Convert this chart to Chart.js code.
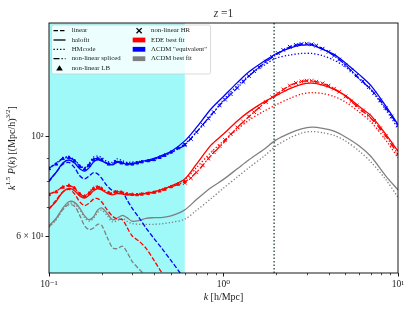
<!DOCTYPE html>
<html><head><meta charset="utf-8">
<script src="https://cdn.jsdelivr.net/npm/chart.js@4"></script>
<style>html,body{margin:0;padding:0;background:#fff}canvas{display:block}</style>
</head><body>
<canvas id="c" width="414" height="311"></canvas>
<script>
// ---------------- DATA ----------------
const titleText = 'z =1';
const xTickVals = [0.1, 1, 10];
const xTickLabels = ['10\u207B\u00B9', '10\u2070', '10\u00B9'];
const yTickVals = [60, 100];
const yTickLabels = ['6 \u00D7 10\u00B9', '10\u00B2'];
const kBand = [0.1, 0.6];
const kCut = 1.95;

const kLin = [0.1,0.11,0.12,0.13,0.14,0.15,0.16,0.17,0.18,0.19,0.2,0.215,0.231,0.245,0.264,0.28,0.3,0.33,0.36,0.4,0.44,0.5,0.55,0.6];
const blueLinear = [79.6,83.5,87,87.8,85.5,82,80.7,82,83.3,82.8,81,78,76,75.5,75.4,72.5,69.4,66,62.8,59.5,56.8,53.2,50.6,48.3];
const redLinear  = [69.2,72.5,75.5,76.5,74.8,71.8,70.4,71.3,72.8,73,71.8,69,66.7,65.8,65.5,63,60.3,58.6,56.6,53.2,50.2,46.8,44.5,42.5];
const grayLinear = [63.2,65.8,69,70.8,70.2,67,63.5,62.3,62.8,64,63.7,60,56.8,56.5,57.2,55.5,52.9,50.8,49,46.5,44.5,42,40,38.5];

const kGrid = [0.1,0.11,0.12,0.13,0.14,0.15,0.16,0.17,0.18,0.19,0.2,0.215,0.231,0.245,0.264,0.28,0.3,0.33,0.36,0.4,0.45,0.5,0.6,0.7,0.85,1.0,1.2,1.4,1.7,2.0,2.4,2.8,3.2,3.7,4.3,5.0,6.0,7.0,8.5,10];
const blueHalofit = [80,83.5,87.5,88.9,87.5,85,84,85.5,88,88.9,88.5,87.3,86.7,87.8,87.5,87,87.3,88,88.6,89.6,91.2,92.8,98,105,115.5,123,132,139.5,147,153,157.5,159.8,159.8,156.5,152.5,146,137.5,130,117.2,106.5];
const blueHMcode  = [85.5,87.5,89.8,90.4,89,86.5,85.5,87.5,90.2,90.7,90,88.3,87.8,89.4,88.5,87.8,88,88.3,88.7,89.4,90.8,92.3,96.5,102.5,111.5,121,130,137,144,149.5,152,153.2,153.2,151.5,148,143,134.5,127,115,104.5];
const blueSpliced = [85.3,87.2,89.5,90,88.6,86.2,85,86.8,89.2,89.6,89,87.5,87.2,88.3,87.8,87.2,87.2,87.8,88.3,89.1,90.6,92.3,96,102.5,112,120,128.5,136.5,145.5,152,158.5,160.8,160.5,157,151.5,144.5,134.5,127.5,116,106];
const redHalofit  = [69.2,72,75.5,76.9,76,74,73.2,74.3,76,76.7,76.3,75,74.4,74.9,74.7,74.4,74.4,74.6,75,75.5,76.6,77.8,80.7,87,96,101.5,108.5,113.8,119.5,123.5,128,130.8,131.6,130.3,127.5,123.5,116.8,111.5,101.4,93];
const redHMcode   = [74.5,75.8,77.5,78,77,74.8,74,75.5,77.3,77.8,77,75.6,75.2,76,75.5,75,74.8,74.9,75.2,75.7,76.7,77.8,80.5,85.5,92.5,98,104,109,114,117.8,121.8,124.5,125.4,124.8,123,119.5,113.5,108,98.5,90];
const redSpliced  = [74.7,75.8,77.5,78,77,74.8,73.8,75,76.8,77.3,76.8,75.3,74.9,75.6,75.2,74.7,74.5,74.6,74.9,75.3,76.3,77.5,79.5,83.5,91,97,105,111,118.5,124,130,132.8,133.2,131.5,128,123,115.5,110,100.5,91.5];
const grayHalofit = [63.5,66,69.5,71.8,71.6,69.5,66.8,65.5,66.5,68.8,69.6,67.8,65.5,66,67,66.2,65,65.3,66,66.2,66.3,66.8,68.9,72.6,77.2,80.5,85,89,93.8,98.5,102,104.2,105.1,104.5,103,100,95.5,90.5,82,76.3];
const grayHMcode  = [63,65.5,69,71.2,71,69,66.2,65,66,68,68.8,67,64.8,65.2,66,65,64.2,64,64,64,64.2,64.6,65.7,68.7,73,77,81.5,85.5,90.5,95.5,99.5,102,102.8,102.2,100.8,98,93,88,80.5,73.5];

const kHR = [0.6,0.65,0.7,0.76,0.82,0.88,0.95,1.02,1.1,1.2,1.3,1.4,1.5,1.6,1.75,1.9,2.05,2.2,2.4,2.6,2.8,3.0,3.2,3.4,3.7,4.0,4.3,4.6,5.0,5.4,5.8,6.3,6.8,7.3,7.9,8.5,9.2,10];
const blueHR = [96,99,102.5,106.5,110,113.5,117.5,121,124.5,128.5,132.5,136.5,140,143,147,150.5,153.5,156,158.5,160,160.8,161,160.5,159.5,157,154.5,151.5,148.5,144.5,140.5,137,133,129,125,120.5,116,111,106];
const redHR  = [79,81,83.5,86.5,89.5,92.5,95.5,98.5,101.5,105,108,111,113.5,116,119.5,122.5,125,127.5,130,131.8,132.8,133.3,133.2,132.6,131.5,130,128,126,123,120,117.5,114.5,111.5,108.5,104.5,100.5,96,91.5];

const kLB = [0.1,0.11,0.12,0.13,0.14,0.15,0.16,0.17,0.18,0.19,0.2,0.22,0.24,0.26,0.28,0.3,0.32,0.34,0.37,0.4,0.43,0.46,0.5,0.55,0.6];
const blueLB = [85,87,89.5,90,88.5,86,84.8,86.5,89,89.5,89,87,88,87.5,87,87,87.5,88,88.5,89,90,91,92.5,94.5,96];
const redLB  = [74.5,75.5,77.3,78,77,74.8,73.8,75,76.8,77.3,76.8,75.2,75.5,75.3,74.7,74.5,74.4,74.6,74.9,75.3,75.8,76.5,77.5,78.5,79.5];

const legendLeft = ['linear','halofit','HMcode','non-linear spliced','non-linear LB'];
const legendRight = ['non-linear HR','EDE best fit','\u039BCDM "equivalent"','\u039BCDM best fit'];

// ---------------- STYLE ----------------
const BLUE = '#0000ff', RED = '#ff0000', GRAY = '#808080';
const SERIF = '"Liberation Serif", "DejaVu Serif", serif';
const LW = 1.3;
const DASH = [4.5, 2], DOT = [1.3, 2], DASHDOT = [6, 2, 1.3, 2];

function pts(ks, vs) { return ks.map((k, i) => ({x: k, y: vs[i]})); }
function line(ks, vs, color, dash) {
  return {data: pts(ks, vs), borderColor: color, backgroundColor: color, borderWidth: LW,
    borderDash: dash, pointRadius: 0, fill: false, tension: 0.3, showLine: true};
}
function marks(ks, vs, color, style, r) {
  return {data: pts(ks, vs), borderColor: color, backgroundColor: color, borderWidth: 1,
    pointStyle: style, pointRadius: r, pointHoverRadius: r, showLine: false};
}

const datasets = [
  marks(kHR, redHR, RED, 'crossRot', 2.6),
  marks(kLB, redLB, RED, 'triangle', 1.8),
  line(kGrid, redSpliced, RED, DASHDOT),
  line(kGrid, redHMcode, RED, DOT),
  line(kGrid, redHalofit, RED, []),
  line(kLin, redLinear, RED, DASH),
  marks(kHR, blueHR, BLUE, 'crossRot', 2.6),
  marks(kLB, blueLB, BLUE, 'triangle', 1.8),
  line(kGrid, blueSpliced, BLUE, DASHDOT),
  line(kGrid, blueHMcode, BLUE, DOT),
  line(kGrid, blueHalofit, BLUE, []),
  line(kLin, blueLinear, BLUE, DASH),
  line(kGrid, grayHMcode, GRAY, DOT),
  line(kGrid, grayHalofit, GRAY, []),
  line(kLin, grayLinear, GRAY, DASH),
];

function richText(ctx, segs, x, y, align) {
  let w = 0;
  segs.forEach(s => { ctx.font = s.f; w += ctx.measureText(s.t).width; });
  let cx = align === 'center' ? x - w / 2 : x;
  ctx.textBaseline = 'middle';
  ctx.textAlign = 'left';
  segs.forEach(s => { ctx.font = s.f; ctx.fillText(s.t, cx, y + (s.dy || 0)); cx += ctx.measureText(s.t).width; });
}

const decor = {
  id: 'decor',
  beforeDatasetsDraw(chart) {
    const {ctx, chartArea: a, scales: {x}} = chart;
    ctx.save();
    const x0 = x.getPixelForValue(kBand[0]), x1 = x.getPixelForValue(kBand[1]);
    ctx.fillStyle = '#9ff9f9';
    ctx.fillRect(x0, a.top, x1 - x0, a.bottom - a.top);
    const xc = x.getPixelForValue(kCut);
    ctx.strokeStyle = '#2f4f4f';
    ctx.lineWidth = 1.4;
    ctx.setLineDash([1.4, 2.1]);
    ctx.beginPath(); ctx.moveTo(xc, a.top); ctx.lineTo(xc, a.bottom); ctx.stroke();
    ctx.restore();
  },
  afterDraw(chart) {
    const {ctx, chartArea: a, scales: {x, y}} = chart;
    ctx.save();
    ctx.strokeStyle = '#000'; ctx.lineWidth = 0.9; ctx.setLineDash([]);
    ctx.strokeRect(a.left, a.top, a.right - a.left, a.bottom - a.top);
    ctx.lineWidth = 0.7;
    ctx.beginPath();
    [0.2,0.3,0.4,0.5,0.6,0.7,0.8,0.9,2,3,4,5,6,7,8,9].forEach(v => {
      const px = Math.round(x.getPixelForValue(v)) + 0.5;
      ctx.moveTo(px, a.bottom); ctx.lineTo(px, a.bottom + 2.2);
    });
    [70, 80, 90].forEach(v => {
      const py = Math.round(y.getPixelForValue(v)) + 0.5;
      ctx.moveTo(a.left, py); ctx.lineTo(a.left - 2.2, py);
    });
    ctx.stroke();
    ctx.fillStyle = '#333';
    richText(ctx, [{t: 'z', f: 'italic 11.5px ' + SERIF}, {t: ' =1', f: '11.5px ' + SERIF}], (a.left + a.right) / 2, 14, 'center');
    ctx.fillStyle = '#222';
    const it = 'italic 10px ' + SERIF, rm = '10px ' + SERIF, sp = '7px ' + SERIF;
    richText(ctx, [{t: 'k', f: it}, {t: ' [h/Mpc]', f: rm}], (a.left + a.right) / 2, 297, 'center');
    ctx.save();
    ctx.translate(12, (a.top + a.bottom) / 2);
    ctx.rotate(-Math.PI / 2);
    richText(ctx, [{t: 'k', f: it}, {t: '1.5', f: sp, dy: -3.6}, {t: ' ', f: rm}, {t: 'P', f: it}, {t: '(', f: rm}, {t: 'k', f: it},
      {t: ') [(Mpc/h)', f: rm}, {t: '3/2', f: sp, dy: -3.6}, {t: ']', f: rm}], 0, 0, 'center');
    ctx.restore();
    const lx = 51.5, ly = 25, lw = 159, lh = 49;
    ctx.beginPath();
    ctx.roundRect ? ctx.roundRect(lx, ly, lw, lh, 2) : ctx.rect(lx, ly, lw, lh);
    ctx.fillStyle = 'rgba(255,255,255,0.8)'; ctx.fill();
    ctx.strokeStyle = 'rgba(204,204,204,0.9)'; ctx.lineWidth = 0.8; ctx.stroke();
    const rows = [30.7, 40, 49.3, 58.7, 68.3];
    const dashes = [DASH, [], DOT, DASHDOT];
    ctx.strokeStyle = '#000'; ctx.lineWidth = LW;
    dashes.forEach((d, i) => {
      ctx.setLineDash(d);
      ctx.beginPath(); ctx.moveTo(53.5, rows[i]); ctx.lineTo(65.5, rows[i]); ctx.stroke();
    });
    ctx.setLineDash([]);
    ctx.fillStyle = '#000';
    ctx.beginPath(); ctx.moveTo(59.5, rows[4] - 3); ctx.lineTo(62.8, rows[4] + 2.3); ctx.lineTo(56.2, rows[4] + 2.3); ctx.closePath(); ctx.fill();
    ctx.lineWidth = 1.3;
    ctx.beginPath(); ctx.moveTo(136.5, rows[0] - 2.6); ctx.lineTo(141.7, rows[0] + 2.6); ctx.moveTo(141.7, rows[0] - 2.6); ctx.lineTo(136.5, rows[0] + 2.6); ctx.stroke();
    [RED, BLUE, GRAY].forEach((c, i) => { ctx.fillStyle = c; ctx.fillRect(132.7, rows[i + 1] - 2.4, 12.6, 4.8); });
    ctx.fillStyle = '#222';
    ctx.font = '6.8px ' + SERIF; ctx.textBaseline = 'middle'; ctx.textAlign = 'left';
    legendLeft.forEach((t, i) => ctx.fillText(t, 71.7, rows[i]));
    legendRight.forEach((t, i) => ctx.fillText(t, 151, rows[i]));
    ctx.restore();
  }
};

new Chart(document.getElementById('c'), {
  type: 'line',
  data: {datasets},
  options: {
    responsive: false, animation: false, devicePixelRatio: 1,
    layout: {padding: {top: 23, right: 16, left: 0, bottom: 0}},
    plugins: {legend: {display: false}, tooltip: {enabled: false}, title: {display: false}},
    scales: {
      x: {
        type: 'logarithmic', min: 0.1, max: 10,
        afterBuildTicks: s => { s.ticks = xTickVals.map(v => ({value: v})); },
        afterFit: s => { s.height = 38; },
        ticks: {autoSkip: false, maxRotation: 0, padding: 2, color: '#222', font: {family: SERIF, size: 9.5},
          callback: v => { const i = xTickVals.indexOf(v); return i >= 0 ? xTickLabels[i] : ''; }},
        grid: {drawOnChartArea: false, drawTicks: true, tickLength: 3.5, tickColor: '#000', tickWidth: 0.9},
        border: {display: false}
      },
      y: {
        type: 'logarithmic', min: 49.9, max: 179,
        afterBuildTicks: s => { s.ticks = yTickVals.map(v => ({value: v})); },
        afterFit: s => { s.width = 49; },
        ticks: {autoSkip: false, padding: 2, color: '#222', font: {family: SERIF, size: 9.5},
          callback: v => { const i = yTickVals.indexOf(v); return i >= 0 ? yTickLabels[i] : ''; }},
        grid: {drawOnChartArea: false, drawTicks: true, tickLength: 3.5, tickColor: '#000', tickWidth: 0.9},
        border: {display: false}
      }
    }
  },
  plugins: [decor]
});
</script>
</body></html>
